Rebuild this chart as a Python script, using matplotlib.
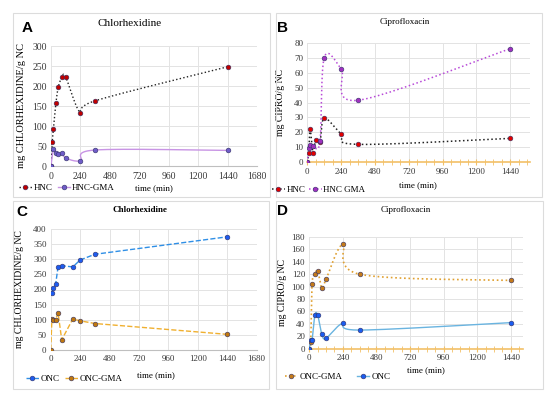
import numpy as np
import matplotlib
matplotlib.use("Agg")
import matplotlib.pyplot as plt
from matplotlib.lines import Line2D
from matplotlib.patches import Rectangle

plt.rcParams['font.family'] = ['Liberation Serif', 'DejaVu Serif']

# ---- data (time in minutes) ----
t_a_hnc = [0, 10, 20, 40, 60, 90, 120, 240, 360, 1440]
a_hnc = [0, 60, 93, 157, 198, 222, 222, 133, 163, 248]
t_a_gma = [0, 20, 40, 60, 90, 120, 240, 360, 1440]
a_gma = [0, 42, 33, 30, 33, 20, 13, 40, 39]

t_b_hnc = [0, 10, 20, 40, 60, 90, 120, 240, 360, 1440]
b_hnc = [0, 6, 22, 6.5, 15, 13.5, 29.5, 19, 12, 16]
t_b_gma = [0, 10, 20, 40, 90, 120, 240, 360, 1440]
b_gma = [0, 9.5, 11.5, 11, 14, 70, 62.5, 41.5, 76]

t_c_onc = [10, 20, 40, 60, 90, 180, 240, 360, 1440]
c_onc = [190, 205, 217, 275, 279, 275, 298, 317, 375]
t_c_gma = [0, 10, 20, 40, 60, 90, 180, 240, 360, 1440]
c_gma = [0, 102, 100, 100, 122, 33, 102, 96, 87, 51]

t_d = [0, 10, 20, 40, 60, 90, 120, 240, 360, 1440]
d_gma = [0, 10, 105, 120, 125, 98, 112, 168, 120, 110]
d_onc = [0, 14, 14, 54, 54, 23, 17, 41, 30, 42]

x_ticks = [0, 240, 480, 720, 960, 1200, 1440, 1680]

W, H = 550, 397
fig = plt.figure(figsize=(W / 100, H / 100), dpi=100)


def fx(px):
    return px / W


def fy(py):
    return 1 - py / H


def make_axes(x0, x1, y0, y1):
    # pixel box (top-left origin) -> axes
    return fig.add_axes([fx(x0), fy(y1), (x1 - x0) / W, (y1 - y0) / H])


def smooth(ax, x, y, n=25):
    """Excel-like smoothed curve through the points, built in pixel space."""
    pos = ax.get_position()
    xl, yl = ax.get_xlim(), ax.get_ylim()
    sx = pos.width * W / (xl[1] - xl[0])
    sy = pos.height * H / (yl[1] - yl[0])
    p = np.column_stack([np.asarray(x, float) * sx, np.asarray(y, float) * sy])
    out = [p[0]]
    t = np.linspace(0, 1, n)[1:, None]
    for i in range(len(p) - 1):
        a = p[max(i - 1, 0)]
        b = p[i]
        c = p[i + 1]
        d = p[min(i + 2, len(p) - 1)]
        c1 = b + (c - a) / 6
        c2 = c - (d - b) / 6
        seg = (1 - t) ** 3 * b + 3 * (1 - t) ** 2 * t * c1 + 3 * (1 - t) * t ** 2 * c2 + t ** 3 * c
        out.extend(seg)
    out = np.array(out)
    return out[:, 0] / sx, out[:, 1] / sy


def style(ax, xmax, ymax, ystep, yellow=False, fs=6.5):
    ax.set_xlim(0, xmax)
    ax.set_ylim(0, ymax)
    ax.set_xticks([v for v in x_ticks if v <= xmax])
    ax.set_yticks(np.arange(0, ymax + 1, ystep))
    ax.grid(True, color='#e3e3e3', lw=0.7)
    ax.set_axisbelow(True)
    for s in ['top', 'right', 'left']:
        ax.spines[s].set_visible(False)
    ax.tick_params(axis='y', length=0, labelsize=fs, colors='#3a3a3a', pad=3)
    if yellow:
        ax.spines['bottom'].set_color('#f2c067')
        ax.spines['bottom'].set_linewidth(1.2)
        ax.set_xticks(np.arange(0, xmax, 60), minor=True)
        ax.tick_params(axis='x', which='both', direction='inout', length=4,
                       color='#f2c067', labelsize=fs, labelcolor='#3a3a3a', pad=2)
    else:
        ax.spines['bottom'].set_color('#bfbfbf')
        ax.tick_params(axis='x', length=0, labelsize=fs, colors='#3a3a3a', pad=4)


def series(ax, x, y, ls, lc, mc, lw=1.0, smooth_it=True):
    if smooth_it:
        sx, sy = smooth(ax, x, y)
    else:
        sx, sy = x, y
    ax.plot(sx, sy, ls=ls, color=lc, lw=lw, zorder=3)
    ax.plot(x, y, ls='none', marker='o', ms=3.4, mfc=mc, mec='#333366', mew=0.4, zorder=4)
    return Line2D([], [], ls=ls, color=lc, lw=lw, marker='o', ms=3.4, mfc=mc,
                  mec='#333366', mew=0.4)


def legend(handles, labels, x, y, colsp=0.6):
    fig.legend(handles, labels, loc='center left', bbox_to_anchor=(fx(x), fy(y)),
               ncol=2, frameon=False, fontsize=6.5, handlelength=1.4,
               handletextpad=0.2, columnspacing=colsp, borderpad=0, borderaxespad=0)


# panel borders
for (x0, y0, x1, y1) in [(12.7, 12.7, 270, 197), (276, 12.7, 542, 197),
                         (12.7, 201, 269, 389), (276, 201, 543, 389)]:
    fig.add_artist(Rectangle((fx(x0), fy(y1)), (x1 - x0) / W, (y1 - y0) / H,
                             transform=fig.transFigure, fill=False,
                             edgecolor='#dcdcdc', lw=0.8))

# ---- A ----
axA = make_axes(51, 257, 46, 166)
style(axA, 1680, 300, 50, fs=7)
hA1 = series(axA, t_a_hnc, a_hnc, ':', '#222222', '#c00000')
hA2 = series(axA, t_a_gma, a_gma, '-', '#c894e4', '#6f5cc8')
axA.set_ylabel('mg CHLORHEXIDINE/g NC', fontsize=7.5)
axA.yaxis.set_label_coords(-0.12, 0.5)
fig.text(fx(130), fy(23), 'Chlorhexidine', ha='center', va='center', fontsize=8)
legend([hA1, hA2], ['HNC', 'HNC-GMA'], 19, 188)
fig.text(fx(154), fy(188), 'time (min)', ha='center', va='center', fontsize=6.5)

# ---- B ----
axB = make_axes(307.3, 530, 42.7, 162.3)
style(axB, 1580, 80, 10, yellow=True)
hB1 = series(axB, t_b_hnc, b_hnc, ':', '#222222', '#e00000', lw=1.1)
hB2 = series(axB, t_b_gma, b_gma, ':', '#b84ad8', '#a030c0', lw=1.1)
axB.set_ylabel('mg CIPRO/g NC', fontsize=7)
axB.yaxis.set_label_coords(-0.1, 0.5)
fig.text(fx(405), fy(22), 'Ciprofloxacin', ha='center', va='center', fontsize=6.5)
legend([hB1, hB2], ['HNC', 'HNC GMA'], 272, 190, colsp=0.4)
fig.text(fx(418), fy(185), 'time (min)', ha='center', va='center', fontsize=6.5)

# ---- C ----
axC = make_axes(50.7, 256.7, 229.3, 349.7)
style(axC, 1680, 400, 50)
hC1 = series(axC, t_c_onc, c_onc, '--', '#2f8fe6', '#1e5cf0', smooth_it=False)
hC2 = series(axC, t_c_gma, c_gma, '--', '#f0b030', '#c07810', smooth_it=False)
axC.set_ylabel('mg CHLORHEXIDINE/g NC', fontsize=7)
axC.yaxis.set_label_coords(-0.13, 0.5)
fig.text(fx(140), fy(210), 'Chlorhexidine', ha='center', va='center', fontsize=6.5,
         fontweight='bold')
legend([hC1, hC2], ['ONC', 'ONC-GMA'], 26, 379)
fig.text(fx(156), fy(375), 'time (min)', ha='center', va='center', fontsize=6.5)

# ---- D ----
axD = make_axes(309.3, 523.3, 237, 348.7)
style(axD, 1530, 180, 20, yellow=True)
hD1 = series(axD, t_d, d_gma, ':', '#e0a030', '#c47a1a', lw=1.2)
hD2 = series(axD, t_d, d_onc, '-', '#6ab4e0', '#1a5cf0')
axD.set_ylabel('mg CIPRO/g NC', fontsize=7)
axD.yaxis.set_label_coords(-0.105, 0.5)
fig.text(fx(406), fy(210), 'Ciprofloxacin', ha='center', va='center', fontsize=6.5)
legend([hD1, hD2], ['ONC-GMA', 'ONC'], 285, 377, colsp=1.6)
fig.text(fx(426), fy(370), 'time (min)', ha='center', va='center', fontsize=6.5)

# panel letters
for lab, x, y in [('A', 27, 28), ('B', 283, 28), ('C', 22, 212), ('D', 283, 211)]:
    fig.text(fx(x), fy(y), lab, ha='center', va='center', fontsize=11,
             fontweight='bold', family=['Liberation Sans', 'DejaVu Sans'])

fig.savefig('out.png', dpi=100)
